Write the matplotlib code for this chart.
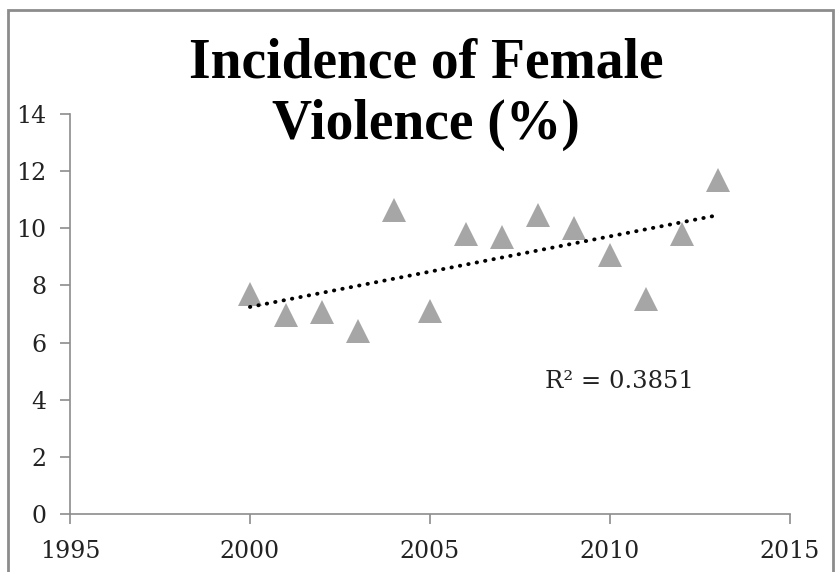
import numpy as np
import matplotlib
matplotlib.use("Agg")
import matplotlib.pyplot as plt
from matplotlib.patches import Rectangle

# valores
years = [2000, 2001, 2002, 2003, 2004, 2005, 2006, 2007, 2008, 2009, 2010, 2011, 2012, 2013]
incidence = [7.7, 6.97, 7.07, 6.41, 10.64, 7.1, 9.8, 9.7, 10.48, 10.0, 9.07, 7.51, 9.8, 11.69]
x_ticks = [1995, 2000, 2005, 2010, 2015]
y_ticks = [0, 2, 4, 6, 8, 10, 12, 14]
title = "Incidence of Female\nViolence (%)"
r2_label = "R\u00b2 = 0.3851"

fig = plt.figure(figsize=(8.35, 5.72), dpi=100)
ax = fig.add_axes([0.0838, 0.1014, 0.8622, 0.6993])

# puntos
ax.plot(years, incidence, linestyle="none", marker="^", markersize=17,
        color="#a6a6a6", markeredgewidth=0, zorder=3)

# linea de tendencia
coef = np.polyfit(years, incidence, 1)
xs = np.array([years[0], years[-1]])
ax.plot(xs, np.polyval(coef, xs), color="black", linewidth=2.8,
        dashes=(0.1, 2.1), dash_capstyle="round", zorder=4)

ax.text(2008.2, 4.62, r2_label, ha="left", va="center",
        fontsize=17.5, family="DejaVu Serif", color="#222222")

ax.set_xlim(1995, 2015)
ax.set_ylim(0, 14)
ax.set_xticks(x_ticks)
ax.set_yticks(y_ticks)
for s in ["top", "right"]:
    ax.spines[s].set_visible(False)
for s in ["left", "bottom"]:
    ax.spines[s].set_color("#8c8c8c")
    ax.spines[s].set_linewidth(1.2)
ax.tick_params(direction="out", length=7, width=1.2, color="#8c8c8c",
               labelsize=17, labelcolor="#222222")
ax.tick_params(axis="y", pad=10)
ax.tick_params(axis="x", pad=12)
for lab in ax.get_xticklabels() + ax.get_yticklabels():
    lab.set_family("DejaVu Serif")

fig.text(0.51, 1 - 94 / 572, title, ha="center", va="center",
         fontsize=40, fontweight="bold", family="Liberation Serif",
         linespacing=1.22, color="black")

# marco exterior
fig.patches.append(Rectangle((8 / 835, -0.02), 825 / 835, 1.02 - 10 / 572,
                             transform=fig.transFigure, fill=False,
                             edgecolor="#8c8c8c", linewidth=2))

fig.savefig("out.png", dpi=100)
